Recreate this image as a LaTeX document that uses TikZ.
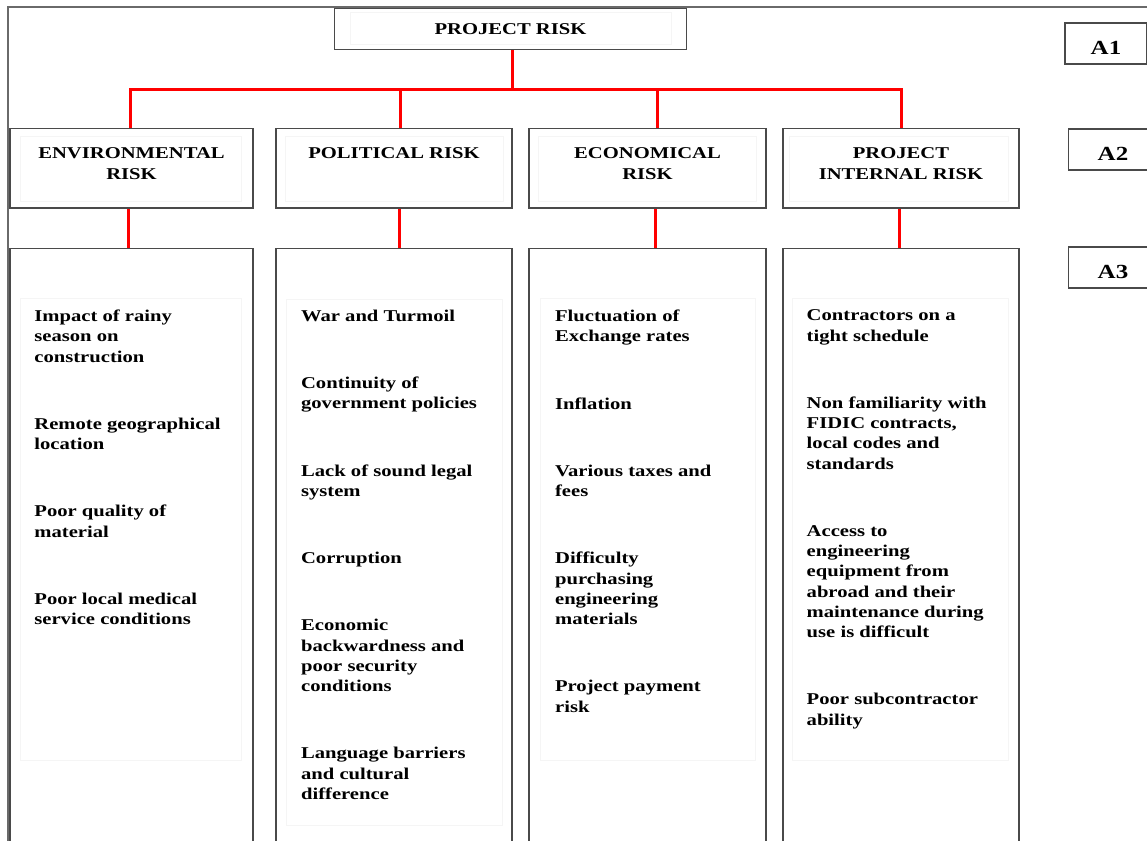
\documentclass[tikz,border=0pt]{standalone}
\usepackage{fontspec}
\setmainfont{Liberation Serif}[FakeStretch=1.25]
\usetikzlibrary{positioning}

\definecolor{boxgray}{HTML}{4A4A4A}
\definecolor{framegray}{HTML}{6A6A6A}
\definecolor{faintgray}{HTML}{F5F5F5}

\begin{document}
\begin{tikzpicture}[
  x=1pt,
  y=-1pt,
  font=\bfseries\fontsize{16.5}{20.25}\selectfont,
  outerframe/.style={draw=framegray,line width=1.2pt},
  redlink/.style={draw=red,line width=3pt},
  rbox/.style={draw=boxgray,line width=1.6pt,inner sep=0pt},
  headbox/.style={rbox,minimum height=79.5pt},
  listbox/.style={rbox,minimum height=633pt},
  headtext/.style={align=center,inner sep=0pt},
  listtext/.style={align=left,inner sep=0pt},
  tagbox/.style={rbox,minimum width=82pt,minimum height=41pt,
    font=\bfseries\fontsize{20}{24}\selectfont,text height=22pt,text depth=0pt},
  faint/.style={draw=faintgray,line width=1pt}
]
\clip (0,0) rectangle (1147,840);

% Page frame (runs off the right and bottom edge)
\draw[outerframe] (8,900) |- (1200,7);

% Level A1
\node[rbox,minimum width=352pt,minimum height=41pt] (risk) at (510.5,29) {PROJECT RISK};

% Level A2: risk groups
\node[headbox,minimum width=243pt] (env) at (131.5,168.25) {};
\node[headbox,minimum width=236pt] (pol) at (394,168.25) {};
\node[headbox,minimum width=237pt] (eco) at (647.5,168.25) {};
\node[headbox,minimum width=236pt] (int) at (901,168.25) {};

\node[headtext,below=20pt of env.north] (env-t) {ENVIRONMENTAL\\RISK};
\node[headtext,below=20pt of pol.north] (pol-t) {POLITICAL RISK};
\node[headtext,below=20pt of eco.north] (eco-t) {ECONOMICAL\\RISK};
\node[headtext,below=20pt of int.north] (int-t) {PROJECT\\INTERNAL RISK};

% Level A3: risk factors
\node[listbox,minimum width=243pt,below=39pt of env] (env-list) {};
\node[listbox,minimum width=236pt,below=39pt of pol] (pol-list) {};
\node[listbox,minimum width=237pt,below=39pt of eco] (eco-list) {};
\node[listbox,minimum width=236pt,below=39pt of int] (int-list) {};

% faint inner text frames
\foreach \ax/\ay/\bx/\by in {350/12.7/671.7/45,
    20/136.7/241.7/201.7, 285/136.7/503/201.7, 538.6/136.7/756/201.7, 789/136.7/1008/201.7,
    20/298/241/760, 286/299/502/825, 540/298/755/760, 792/298/1008/760}
  \draw[faint] (\ax,\ay) rectangle (\bx,\by);

\node[listtext,below right=62pt and 25pt of env-list.north west] (env-items)
  {Impact of rainy\\season on\\construction\\[47pt]
   Remote geographical\\location\\[47pt]
   Poor quality of\\material\\[47pt]
   Poor local medical\\service conditions};
\node[listtext,below right=62pt and 25.7pt of pol-list.north west] (pol-items)
  {War and Turmoil\\[47pt]
   Continuity of\\government policies\\[47pt]
   Lack of sound legal\\system\\[47pt]
   Corruption\\[47pt]
   Economic\\backwardness and\\poor security\\conditions\\[47pt]
   Language barriers\\and cultural\\difference};
\node[listtext,below right=62pt and 26.7pt of eco-list.north west] (eco-items)
  {Fluctuation of\\Exchange rates\\[47pt]
   Inflation\\[47pt]
   Various taxes and\\fees\\[47pt]
   Difficulty\\purchasing\\engineering\\materials\\[47pt]
   Project payment\\risk};
\node[listtext,below right=62pt and 24.3pt of int-list.north west] (int-items)
  {Contractors on a\\tight schedule\\[47pt]
   Non familiarity with\\FIDIC contracts,\\local codes and\\standards\\[47pt]
   Access to\\engineering\\equipment from\\abroad and their\\maintenance during\\use is difficult\\[47pt]
   Poor subcontractor\\ability};

% Level tags
\node[tagbox] (a1) at (1106,43.5) {A1};
\node[tagbox,minimum width=89pt] (a2) at (1113,149.5) {A2};
\node[tagbox,minimum width=89pt] (a3) at (1113,267.5) {A3};

% Red tree connectors
\draw[redlink] ([xshift=2pt]risk.south) -- ++(0,39) coordinate (bus);
\draw[redlink] ([xshift=-1.5pt]env.north) |- (bus) -| (int.north);
\draw[redlink] ([xshift=6.7pt]pol.north) -- ([xshift=6.7pt]pol.north |- bus);
\draw[redlink] ([xshift=9.5pt]eco.north) -- ([xshift=9.5pt]eco.north |- bus);
\foreach \n/\dx in {env/-3.5,pol/5,eco/7.5,int/-2}
  \draw[redlink] ([xshift=\dx pt]\n.south) -- ([xshift=\dx pt]\n-list.north);

\end{tikzpicture}
\end{document}
